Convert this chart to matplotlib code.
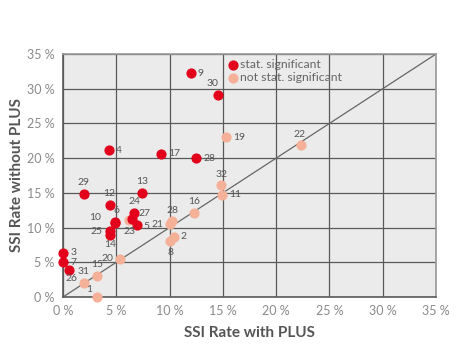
import matplotlib
matplotlib.use("Agg")
import matplotlib.pyplot as plt

# SSI rates (%) per hospital, with and without PLUS
sig_ids = ["10", "9", "30", "4", "17", "28", "29", "12", "13", "24", "27", "6", "5", "14", "25", "3", "7", "26"]
sig_with = [4.85, 12.0, 14.5, 4.35, 9.2, 12.5, 1.97, 4.38, 7.44, 6.66, 6.44, 4.9, 6.94, 4.38, 4.38, 0.03, 0.03, 0.56]
sig_without = [10.7, 32.2, 29.1, 21.1, 20.6, 20.0, 14.8, 13.2, 15.0, 12.15, 11.2, 10.8, 10.3, 9.0, 9.46, 6.4, 5.0, 3.85]

ns_ids = ["19", "22", "32", "11", "16", "28", "21", "2", "8", "23", "20", "15", "31", "1"]
ns_with = [15.3, 22.3, 14.85, 14.95, 12.29, 10.25, 10.07, 10.38, 10.04, 6.2, 5.38, 3.22, 1.97, 3.16]
ns_without = [23.0, 21.9, 16.2, 14.7, 12.1, 11.0, 10.5, 8.7, 8.0, 11.05, 5.5, 2.98, 2.06, 0.0]

ticks = [0, 5, 10, 15, 20, 25, 30, 35]

# label offsets in points (style only)
offsets = {
    "9": (5, 0, "left", "center"), "30": (-4, 5, "center", "bottom"),
    "4": (5, 0, "left", "center"), "17": (5, 0, "left", "center"),
    "28s": (5, 0, "left", "center"), "19": (5, 0, "left", "center"),
    "22": (-1, 4, "center", "bottom"), "32": (0, 4, "center", "bottom"),
    "11": (5, 0, "left", "center"), "16": (0, 5, "center", "bottom"),
    "28n": (0, 4, "center", "bottom"), "21": (-5, 0, "right", "center"),
    "2": (5, 0, "left", "center"), "8": (0, -5, "center", "top"),
    "20": (-5, 0, "right", "center"), "15": (0, 5, "center", "bottom"),
    "31": (0, 5, "center", "bottom"), "1": (-3, 2, "right", "bottom"),
    "26": (2, -3, "center", "top"), "3": (5, 0, "left", "center"),
    "7": (5, 0, "left", "center"), "25": (-5, 0, "right", "center"),
    "14": (0, -4, "center", "top"), "10": (-10, 4, "right", "center"),
    "12": (0, 5, "center", "bottom"), "13": (0, 5, "center", "bottom"),
    "24": (0, 5, "center", "bottom"), "27": (5, 4, "left", "center"),
    "23": (0, -5, "center", "top"), "5": (5, -1, "left", "center"),
    "29": (0, 5, "center", "bottom"), "6": (1, 5, "center", "bottom"),
}

red = "#e2001a"
pink = "#f5b198"
grid_col = "#5a5a5a"
text_col = "#555555"

plt.rcParams["font.family"] = ["Lato", "DejaVu Sans"]

fig = plt.figure(figsize=(4.75, 3.58), dpi=100)
ax = fig.add_axes([0.1326, 0.1704, 0.7854, 0.6788])
ax.set_facecolor("#ebebeb")
ax.set_xlim(0, 35)
ax.set_ylim(0, 35)
ax.set_xticks(ticks)
ax.set_yticks(ticks)
ax.set_xticklabels([f"{t} %" for t in ticks])
ax.set_yticklabels([f"{t} %" for t in ticks])
ax.grid(True, color=grid_col, linewidth=0.9)
ax.set_axisbelow(True)
for s in ax.spines.values():
    s.set_color("#9a9a9a")
    s.set_linewidth(1.2)
ax.spines["left"].set_color(grid_col)
ax.spines["bottom"].set_color(grid_col)
ax.tick_params(length=0, pad=6, labelsize=9, labelcolor="#8a8a8a")

ax.plot([0, 35], [0, 35], color="#666666", linewidth=0.9, zorder=2)

ax.scatter(ns_with, ns_without, s=40, color=pink, zorder=3, label="not stat. significant", clip_on=False)
ax.scatter(sig_with, sig_without, s=40, color=red, zorder=4, label="stat. significant", clip_on=False)

for ids, xs, ys, suf in [(sig_ids, sig_with, sig_without, "s"), (ns_ids, ns_with, ns_without, "n")]:
    for i, x, y in zip(ids, xs, ys):
        key = i + suf if i == "28" else i
        dx, dy, ha, va = offsets[key]
        ax.annotate(i, (x, y), xytext=(dx, dy), textcoords="offset points",
                    ha=ha, va=va, fontsize=7.5, color=text_col, zorder=5)

h, l = ax.get_legend_handles_labels()
leg = ax.legend(h[::-1], l[::-1], loc="upper left", bbox_to_anchor=(0.425, 1.0),
                frameon=False, fontsize=8.8, handletextpad=0.05, labelspacing=0.2,
                borderaxespad=0, handlelength=1.1)
for t in leg.get_texts():
    t.set_color("#666666")

ax.set_xlabel("SSI Rate with PLUS", fontsize=11, fontweight="bold", color="#555555", labelpad=6)
ax.set_ylabel("SSI Rate without PLUS", fontsize=11, fontweight="bold", color="#555555", labelpad=2)

fig.savefig("out.png", dpi=100)
